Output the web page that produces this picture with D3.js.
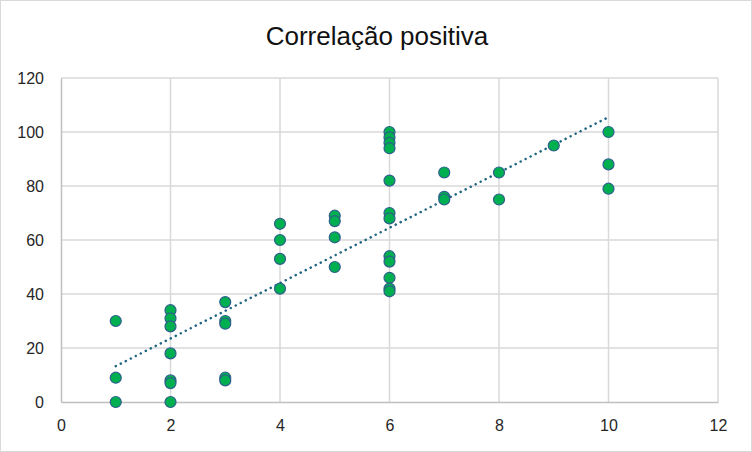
<!DOCTYPE html>
<html><head><meta charset="utf-8">
<script src="https://cdn.jsdelivr.net/npm/d3@7"></script>
<style>body{margin:0;background:#fff}svg{display:block}</style>
</head><body>
<script>
const title = "Correlação positiva";
const xValues = [1,1,1, 2,2,2,2,2,2,2, 3,3,3,3,3, 4,4,4,4, 5,5,5,5, 6,6,6,6,6,6,6,6,6,6,6,6, 7,7,7, 8,8, 9, 10,10,10];
const yValues = [30,9,0, 34,31,28,18,8,7,0, 37,30,29,9,8, 66,60,53,42, 69,67,61,50, 100,98,96,94,82,70,68,54,52,46,42,41, 85,76,75, 85,75, 95, 100,88,79];
const xTicks = [0,2,4,6,8,10,12];
const yTicks = [0,20,40,60,80,100,120];

const W = 752, H = 452;
const svg = d3.select("body").append("svg").attr("width", W).attr("height", H);
svg.append("rect").attr("x",0.5).attr("y",0.5).attr("width",W-1).attr("height",H-1)
  .attr("fill","#fff").attr("stroke","#d9d9d9");

const x = d3.scaleLinear().domain([0,12]).range([61,718]);
const y = d3.scaleLinear().domain([0,120]).range([402,78]);
const font = "'Liberation Sans', Arial, sans-serif";

// gridlines
svg.append("g").selectAll("line").data(yTicks.filter(d=>d>0)).join("line")
  .attr("x1",x(0)).attr("x2",x(12)).attr("y1",d=>y(d)).attr("y2",d=>y(d))
  .attr("stroke","#d9d9d9").attr("stroke-width",1.5);
svg.append("g").selectAll("line").data(xTicks.filter(d=>d>0)).join("line")
  .attr("y1",y(0)).attr("y2",y(120)).attr("x1",d=>x(d)).attr("x2",d=>x(d))
  .attr("stroke","#d9d9d9").attr("stroke-width",1.5);

// axes
const xAxis = svg.append("g").attr("transform",`translate(0,${y(0)})`)
  .call(d3.axisBottom(x).tickValues(xTicks).tickSize(0).tickPadding(18));
const yAxis = svg.append("g").attr("transform",`translate(${x(0)},0)`)
  .call(d3.axisLeft(y).tickValues(yTicks).tickSize(0).tickPadding(17));
[xAxis,yAxis].forEach(a=>{
  a.select(".domain").attr("stroke","#bfbfbf").attr("stroke-width",1.5);
  a.selectAll("text").attr("font-family",font).attr("font-size",16).attr("fill","#262626");
});

// trendline (least squares)
const n = xValues.length;
const mx = d3.mean(xValues), my = d3.mean(yValues);
let sxy=0, sxx=0;
for(let i=0;i<n;i++){sxy+=(xValues[i]-mx)*(yValues[i]-my); sxx+=(xValues[i]-mx)**2;}
const slope = sxy/sxx, icpt = my - slope*mx;
const x0 = d3.min(xValues), x1 = d3.max(xValues);
svg.append("line").attr("x1",x(x0)).attr("y1",y(icpt+slope*x0))
  .attr("x2",x(x1)).attr("y2",y(icpt+slope*x1))
  .attr("stroke","#1f6582").attr("stroke-width",2.5)
  .attr("stroke-dasharray","0.1 5.5").attr("stroke-linecap","round");

// points
svg.append("g").selectAll("circle").data(xValues.map((v,i)=>[v,yValues[i]])).join("circle")
  .attr("cx",d=>x(d[0])).attr("cy",d=>y(d[1])).attr("r",5.5)
  .attr("fill","#00b050").attr("stroke","#2f5f8c").attr("stroke-width",1.2);

svg.append("text").attr("x",377).attr("y",45).attr("text-anchor","middle")
  .attr("font-family",font).attr("font-size",26).attr("fill","#111").text(title);
</script>
</body></html>
